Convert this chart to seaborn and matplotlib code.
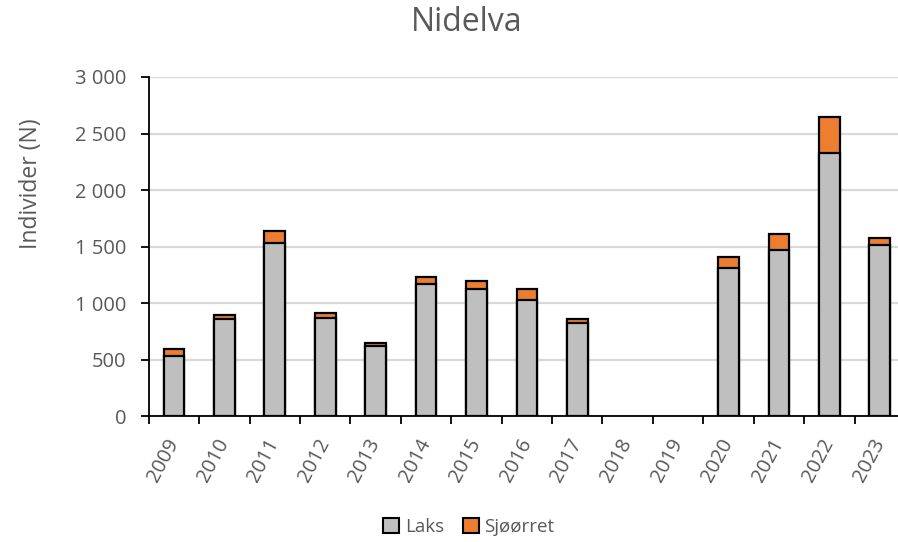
import matplotlib
matplotlib.use("Agg")
import matplotlib.pyplot as plt
import matplotlib.patches as mpatches
import seaborn as sns
import pandas as pd
import numpy as np

# ---- data ----
years = ["2009", "2010", "2011", "2012", "2013", "2014", "2015", "2016",
         "2017", "2018", "2019", "2020", "2021", "2022", "2023"]
laks = [535, 861, 1530, 867, 618, 1172, 1122, 1027, 826, 0, 0, 1312, 1472, 2325, 1513]
sjoorret = [63, 33, 109, 44, 30, 63, 71, 101, 32, 0, 0, 92, 139, 318, 60]
yticks = [0, 500, 1000, 1500, 2000, 2500, 3000]
ytick_labels = ["0", "500", "1\u00a0000", "1\u00a0500", "2\u00a0000", "2\u00a0500", "3\u00a0000"]
title = "Nidelva"
ylabel = "Individer (N)"
series_names = ["Laks", "Sjøørret"]

df = pd.DataFrame({"year": years, "laks": laks, "sjoorret": sjoorret})
df["total"] = df["laks"] + df["sjoorret"]

GRAY = "#BFBFBF"
ORANGE = "#ED7D31"
TEXT = "#595959"

sns.set_theme(style="white")
plt.rcParams["font.family"] = ["Open Sans", "DejaVu Sans"]

fig = plt.figure(figsize=(8.98, 5.42), dpi=100)
ax = fig.add_axes([0.1656, 0.2319, 0.8422, 0.6261])

sns.barplot(data=df, x="year", y="total", color=ORANGE, saturation=1,
            width=0.41, edgecolor="black", linewidth=1.6, ax=ax, zorder=3)
sns.barplot(data=df, x="year", y="laks", color=GRAY, saturation=1,
            width=0.41, edgecolor="black", linewidth=1.6, ax=ax, zorder=4)
for p in ax.patches:
    if p.get_height() == 0:
        p.set_visible(False)

ax.set_xlim(-0.5, len(years) - 0.5)
ax.set_ylim(0, 3000)
ax.set_yticks(yticks, labels=ytick_labels)
ax.yaxis.grid(True, color="#D9D9D9", linewidth=1.6, zorder=0)
ax.set_axisbelow(True)

for s in ["top", "right"]:
    ax.spines[s].set_visible(False)
for s in ["left", "bottom"]:
    ax.spines[s].set_color("black")
    ax.spines[s].set_linewidth(1.3)
    ax.spines[s].set_zorder(5)

ax.tick_params(axis="y", which="major", left=True, length=6, width=1.3,
               color="black", labelsize=14.5, labelcolor=TEXT, pad=10)
ax.set_xticks(np.arange(len(years)), labels=years)
ax.set_xticks(np.arange(len(years) + 1) - 0.5, minor=True)
ax.tick_params(axis="x", which="major", length=0, labelsize=14.5,
               labelcolor=TEXT, pad=17)
ax.tick_params(axis="x", which="minor", bottom=True, length=6, width=1.3,
               color="black")
for lab in ax.get_xticklabels():
    lab.set_rotation(62)
    lab.set_rotation_mode("anchor")
    lab.set_ha("right")
    lab.set_va("center")

ax.set_xlabel("")
ax.set_ylabel(ylabel, fontsize=16.5, color=TEXT)
ax.yaxis.set_label_coords(-0.14, 0.685)

fig.text(0.52, 0.958, title, fontsize=23, color=TEXT, ha="center", va="center")

handles = [mpatches.Patch(facecolor=GRAY, edgecolor="black", linewidth=1.5, label=series_names[0]),
           mpatches.Patch(facecolor=ORANGE, edgecolor="black", linewidth=1.5, label=series_names[1])]
fig.legend(handles=handles, loc="center", bbox_to_anchor=(0.522, 0.027), ncol=2,
           frameon=False, fontsize=13.5, handlelength=0.85, handleheight=0.85,
           handletextpad=0.3, columnspacing=1.0, labelcolor=TEXT)

fig.savefig("out.png", dpi=100)
